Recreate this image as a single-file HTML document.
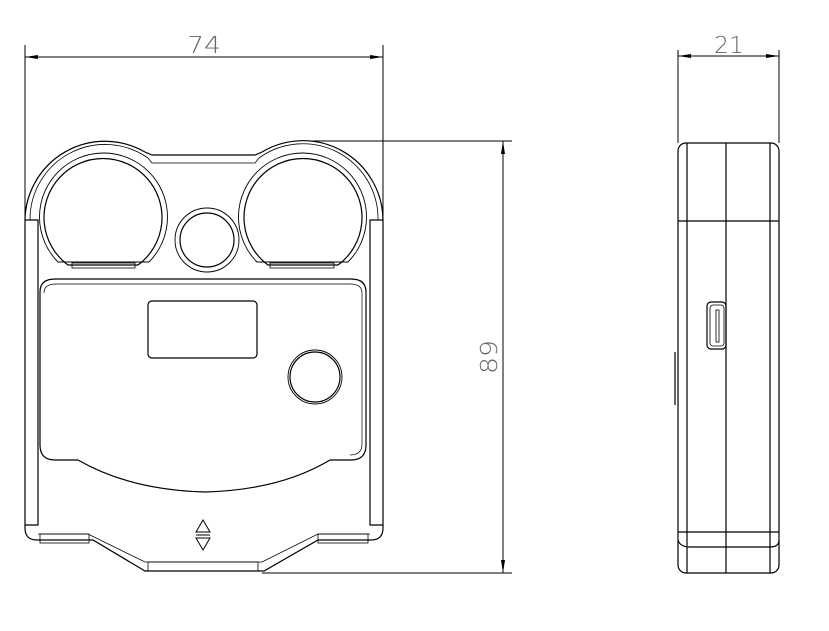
<!DOCTYPE html>
<html><head><style>html,body{margin:0;padding:0;background:#fff}svg{display:block}</style></head>
<body>
<svg width="829" height="631" viewBox="0 0 829 631" xmlns="http://www.w3.org/2000/svg" fill="none" stroke="#000" stroke-width="1.2">
<g stroke-width="1">
<line x1="25" y1="45" x2="25" y2="220"/><line x1="383" y1="45" x2="383" y2="220"/>
<line x1="25" y1="57" x2="383" y2="57"/>
<line x1="310" y1="141" x2="512" y2="141"/><line x1="262" y1="573" x2="512" y2="573"/>
<line x1="503" y1="141" x2="503" y2="573"/>
<line x1="678" y1="50" x2="678" y2="143"/><line x1="779" y1="50" x2="779" y2="143"/>
<line x1="678" y1="56" x2="779" y2="56"/>
</g>
<g fill="#000" stroke="none">
<polygon points="25,57 38,55 38,59"/><polygon points="383,57 370,55 370,59"/>
<polygon points="503,141 501,154 505,154"/><polygon points="503,573 501,560 505,560"/>
<polygon points="678,56 691,54 691,58"/><polygon points="779,56 766,54 766,58"/>
</g>
<g font-family="DejaVu Sans, sans-serif" font-size="23" fill="#666" stroke="none" text-anchor="middle" font-weight="200">
<text x="204" y="53" textLength="34" lengthAdjust="spacingAndGlyphs">74</text>
<text x="729" y="53" textLength="30" lengthAdjust="spacingAndGlyphs">21</text>
<text transform="translate(497,357) rotate(-90)" textLength="34" lengthAdjust="spacingAndGlyphs">89</text>
</g>
<path d="M25,220 A80,80 0 0 1 145,152 L152,155 L255,155 L262,152 A80,80 0 0 1 383,220 L383,528 Q383,540 371,540 L318,540 L264,571 L145,571 L93,540 L37,540 Q25,540 25,528 Z"/>
<path d="M30,220 A75,75 0 0 1 148,158 L152,163 L255,163 L259,158 A75,75 0 0 1 378,220" stroke-width="0.8"/>
<path d="M25,220 L38,220 L38,525 L25,525 M383,220 L370,220 L370,525 L383,525" />
<path d="M38,534 L88,534 L145,562 L262,562 L318,534 L370,534" stroke-width="0.8"/>
<rect x="40" y="534" width="49" height="9" stroke-width="0.8"/>
<rect x="318" y="534" width="50" height="9" stroke-width="0.8"/>
<rect x="148" y="562" width="110" height="9" stroke-width="0.8"/>
<path d="M58,262 A64,64 0 1 1 149,262 Z" stroke-width="0.9"/>
<path d="M68,265 A59,59 0 1 1 138,265 L68,265 Z"/>
<rect x="72" y="263" width="63" height="5" stroke-width="0.8"/>
<path d="M257,262 A64,64 0 1 1 348,262 Z" stroke-width="0.9"/>
<path d="M268,265 A59,59 0 1 1 338,265 L268,265 Z"/>
<rect x="270" y="263" width="64" height="5" stroke-width="0.8"/>
<circle cx="207" cy="240" r="32" stroke-width="0.9"/>
<circle cx="207" cy="240" r="27"/>
<path d="M40,292 Q40,279 55,279 L351,279 Q366,279 366,292 L366,445 Q366,460 351,460 L330,460 Q280,490 205,492 Q130,490 78,460 L55,460 Q40,460 40,445 Z"/>
<path d="M44,293 Q44,284 56,284 L350,284 Q362,284 362,293 L362,444 Q362,455 350,455" stroke-width="0.7"/>
<rect x="148" y="301" width="109" height="57" rx="4"/>
<circle cx="315" cy="377" r="27" stroke-width="0.9"/>
<circle cx="315" cy="377" r="25"/>
<path d="M196,532 L203,520 L210,532 Z M196,538 L203,550 L210,538 Z" stroke-width="1"/>
<line x1="196" y1="535" x2="210" y2="535" stroke-width="1"/>
<rect x="678" y="143" width="101" height="430" rx="8"/>
<line x1="687" y1="143" x2="687" y2="573"/>
<line x1="726" y1="143" x2="726" y2="573"/>
<line x1="770" y1="143" x2="770" y2="573"/>
<line x1="678" y1="221" x2="779" y2="221"/>
<line x1="678" y1="532" x2="779" y2="532"/>
<path d="M678,540 Q680,547 690,547 L770,547 Q779,547 779,540"/>
<rect x="707" y="302" width="19" height="47" rx="4"/>
<rect x="710" y="305" width="14" height="41" rx="3" stroke-width="0.8"/>
<rect x="716" y="310" width="3" height="32" stroke-width="0.8"/>
<line x1="675" y1="352" x2="675" y2="405"/>
</svg>
</body></html>
